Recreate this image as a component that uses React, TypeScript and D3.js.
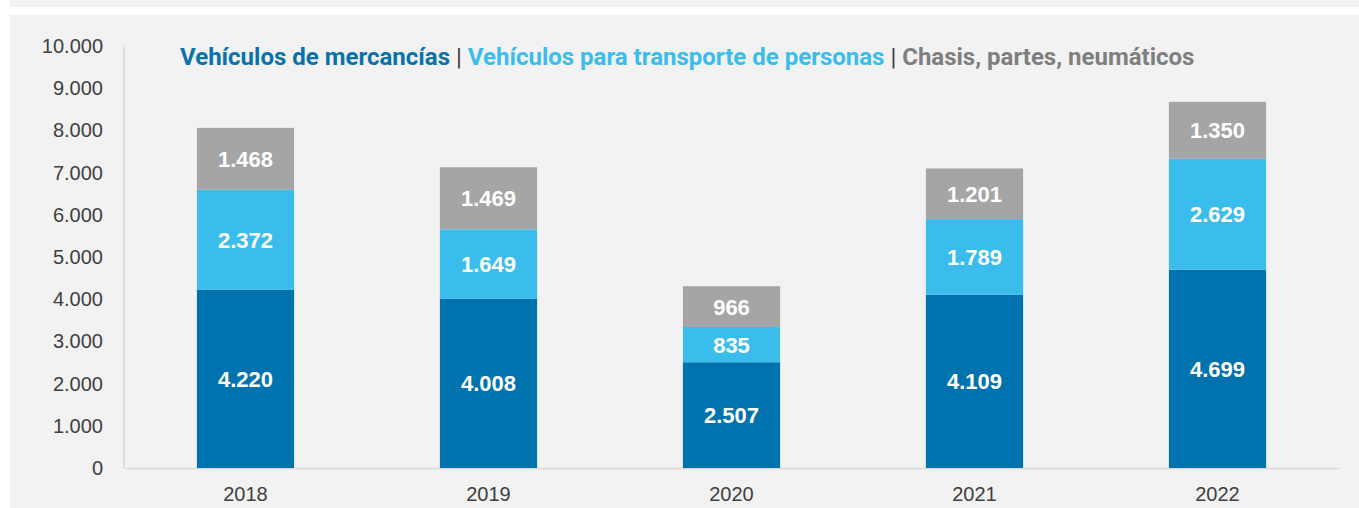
import React, { useEffect, useRef } from 'react';
import * as d3 from 'd3';

const years = ['2018', '2019', '2020', '2021', '2022'];
const mercancias = [4220, 4008, 2507, 4109, 4699];
const personas = [2372, 1649, 835, 1789, 2629];
const chasis = [1468, 1469, 966, 1201, 1350];
const yTicks = [0, 1000, 2000, 3000, 4000, 5000, 6000, 7000, 8000, 9000, 10000];

const seriesNames = ['Vehículos de mercancías', 'Vehículos para transporte de personas', 'Chasis, partes, neumáticos'];
const colors = ['#0073ae', '#3abdec', '#a5a5a5'];
const titleColors = ['#0a72ab', '#3abdec', '#7f7f7f'];

const W = 1359;
const H = 508;

const esLocale = d3.formatLocale({ decimal: ',', thousands: '.', grouping: [3], currency: ['', '€'] });
const fmt = esLocale.format(',d');

function App() {
  const svgRef = useRef<SVGSVGElement>(null);

  useEffect(() => {
    const svg = d3.select(svgRef.current);
    svg.selectAll('*').remove();

    // backgrounds
    svg.append('rect').attr('width', W).attr('height', H).attr('fill', '#ffffff');
    svg.append('rect').attr('x', 10).attr('y', 0).attr('width', W - 10).attr('height', 7).attr('fill', '#f2f2f2');
    svg.append('rect').attr('x', 10).attr('y', 15).attr('width', W - 10).attr('height', H - 15).attr('fill', '#f2f2f2');

    const x = d3.scaleBand().domain(years).range([124, 1339]).paddingInner(0.6).paddingOuter(0.3);
    const y = d3.scaleLinear().domain([0, 10000]).range([468, 46]);

    const table = years.map((yr, i) => ({ year: yr, a: mercancias[i], b: personas[i], c: chasis[i] }));
    const stack = d3.stack<any>().keys(['a', 'b', 'c'])(table);

    // y axis
    const yAxis = d3.axisLeft(y).tickValues(yTicks).tickSize(0).tickPadding(21).tickFormat((d) => fmt(+d));
    const gy = svg.append('g').attr('transform', 'translate(124,0)').call(yAxis);
    gy.select('.domain').attr('stroke', '#d9d9d9').attr('stroke-width', 1.5).attr('d', 'M0,47V468');
    gy.selectAll('text').attr('fill', '#404040').attr('font-size', 20).attr('font-family', 'Liberation Sans, Arial, sans-serif');

    // x axis
    const xAxis = d3.axisBottom(x).tickSize(0).tickPadding(19);
    const gx = svg.append('g').attr('transform', 'translate(0,468)').call(xAxis);
    gx.select('.domain').attr('stroke', '#d9d9d9').attr('stroke-width', 1.5);
    gx.selectAll('text').attr('fill', '#404040').attr('font-size', 20).attr('font-family', 'Liberation Sans, Arial, sans-serif');

    // bars
    stack.forEach((layer, li) => {
      const g = svg.append('g');
      g.selectAll('rect')
        .data(layer)
        .join('rect')
        .attr('x', (d: any) => x(d.data.year)!)
        .attr('y', (d: any) => y(d[1]))
        .attr('width', x.bandwidth())
        .attr('height', (d: any) => y(d[0]) - y(d[1]))
        .attr('fill', colors[li]);
      g.selectAll('text')
        .data(layer)
        .join('text')
        .attr('x', (d: any) => x(d.data.year)! + x.bandwidth() / 2)
        .attr('y', (d: any) => (y(d[0]) + y(d[1])) / 2)
        .attr('dy', '0.36em')
        .attr('text-anchor', 'middle')
        .attr('fill', '#ffffff')
        .attr('font-size', 22)
        .attr('font-weight', 'bold')
        .attr('font-family', 'Liberation Sans, Arial, sans-serif')
        .text((d: any) => fmt(d[1] - d[0]));
    });

    // title
    const title = svg.append('text')
      .attr('x', 180)
      .attr('y', 65)
      .attr('font-size', 24)
      .attr('font-weight', 'bold')
      .attr('font-family', 'Roboto, sans-serif');
    seriesNames.forEach((name, i) => {
      if (i > 0) {
        title.append('tspan').attr('fill', '#404040').attr('font-weight', 'normal').text(' | ');
      }
      title.append('tspan').attr('fill', titleColors[i]).text(name);
    });
  }, []);

  return <svg ref={svgRef} width={W} height={H} style={{ position: 'absolute', left: 0, top: 0 }} />;
}

export default App;
